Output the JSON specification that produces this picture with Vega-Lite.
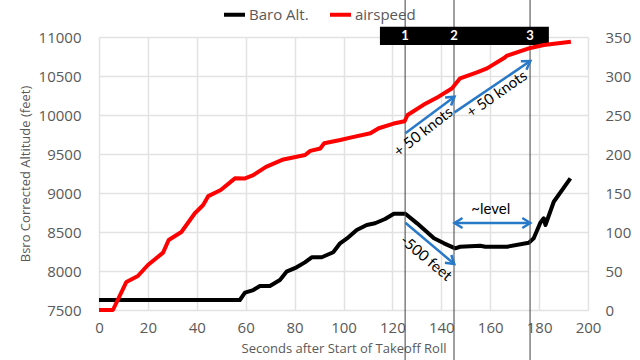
{
  "$schema": "https://vega.github.io/schema/vega-lite/v6.json",
  "width": 489,
  "height": 273,
  "autosize": {"type": "none"},
  "padding": {"left": 99, "top": 37, "right": 52, "bottom": 50},
  "background": "white",
  "config": {
    "view": {"stroke": null},
    "axis": {
      "labelFont": "Open Sans", "labelFontSize": 15, "labelColor": "#595959",
      "titleFont": "Open Sans", "titleFontSize": 13, "titleColor": "#595959", "titleFontWeight": "normal",
      "domain": false, "ticks": false, "gridColor": "#e2e2e2", "gridWidth": 1.5,
      "labelOverlap": false, "labelFlush": false, "labelBound": false
    }
  },
  "resolve": {"scale": {"y": "independent"}},
  "layer": [
    {
      "layer": [
        {
          "data": {"values": [
            {"t": 0, "v": 7628}, {"t": 57.6, "v": 7628}, {"t": 59.7, "v": 7722}, {"t": 63.1, "v": 7756},
            {"t": 65.8, "v": 7808}, {"t": 69.9, "v": 7808}, {"t": 74, "v": 7885}, {"t": 76.7, "v": 7991},
            {"t": 80.8, "v": 8047}, {"t": 84.2, "v": 8111}, {"t": 87, "v": 8176}, {"t": 91.1, "v": 8176},
            {"t": 95.8, "v": 8240}, {"t": 98.6, "v": 8355}, {"t": 102, "v": 8432}, {"t": 105.4, "v": 8526},
            {"t": 109.5, "v": 8590}, {"t": 112.9, "v": 8612}, {"t": 117, "v": 8667}, {"t": 120.6, "v": 8735},
            {"t": 125.3, "v": 8735}, {"t": 130.1, "v": 8611}, {"t": 137, "v": 8419}, {"t": 141.1, "v": 8355},
            {"t": 145.7, "v": 8291}, {"t": 147.7, "v": 8311}, {"t": 155.9, "v": 8324}, {"t": 158, "v": 8311},
            {"t": 166.9, "v": 8311}, {"t": 175.8, "v": 8363}, {"t": 177.8, "v": 8419}, {"t": 180.5, "v": 8619},
            {"t": 181.9, "v": 8676}, {"t": 182.6, "v": 8590}, {"t": 186, "v": 8888}, {"t": 192.8, "v": 9188}
          ]},
          "mark": {"type": "line", "strokeWidth": 4, "strokeJoin": "round"},
          "encoding": {
            "x": {"field": "t", "type": "quantitative", "title": "Seconds after Start of Takeoff Roll",
              "scale": {"domain": [0, 200], "nice": false},
              "axis": {"values": [0, 20, 40, 60, 80, 100, 120, 140, 160, 180, 200], "tickCount": 20, "format": "d", "labelPadding": 10, "titlePadding": 7, "grid": true}},
            "y": {"field": "v", "type": "quantitative", "title": "Bsro Corrected Altitude (feet)",
              "scale": {"domain": [7500, 11000], "nice": false, "zero": false},
              "axis": {"orient": "left", "values": [7500, 8000, 8500, 9000, 9500, 10000, 10500, 11000], "tickCount": 20, "format": "d", "labelPadding": 18, "titlePadding": 6, "grid": true}},
            "color": {"datum": "Baro Alt.",
              "scale": {"domain": ["Baro Alt.", "airspeed"], "range": ["#000000", "#ff0000"]},
              "legend": {"title": null, "orient": "none", "legendX": 123, "legendY": -35, "direction": "horizontal", "columns": 2,
                "columnPadding": 13, "labelFont": "Open Sans", "labelFontSize": 15, "labelColor": "#595959", "labelOffset": 2,
                "symbolType": "stroke", "symbolSize": 440, "symbolStrokeWidth": 4}}
          }
        },
        {
          "data": {"values": [
            {"t": 125.2, "a": 11480, "b": 6850}, {"t": 145.2, "a": 11480, "b": 6850}, {"t": 176.3, "a": 11480, "b": 6850}
          ]},
          "mark": {"type": "rule", "color": "#404040", "strokeWidth": 1},
          "encoding": {
            "x": {"field": "t", "type": "quantitative", "title": "Seconds after Start of Takeoff Roll"},
            "y": {"field": "a", "type": "quantitative", "title": "Bsro Corrected Altitude (feet)"},
            "y2": {"field": "b"}
          }
        },
        {
          "data": {"values": [{"t1": 114.9, "t2": 184, "v1": 10897, "v2": 11132}]},
          "mark": {"type": "rect", "color": "#000000"},
          "encoding": {
            "x": {"field": "t1", "type": "quantitative", "title": "Seconds after Start of Takeoff Roll"},
            "x2": {"field": "t2"},
            "y": {"field": "v1", "type": "quantitative", "title": "Bsro Corrected Altitude (feet)"},
            "y2": {"field": "v2"}
          }
        },
        {
          "data": {"values": [
            {"t": 125.2, "v": 11013, "label": "1"}, {"t": 145.2, "v": 11013, "label": "2"}, {"t": 176.3, "v": 11013, "label": "3"}
          ]},
          "mark": {"type": "text", "color": "#ffffff", "font": "Lato", "fontWeight": "bold", "fontSize": 13, "baseline": "middle", "align": "center"},
          "encoding": {
            "x": {"field": "t", "type": "quantitative", "title": "Seconds after Start of Takeoff Roll"},
            "y": {"field": "v", "type": "quantitative", "title": "Bsro Corrected Altitude (feet)"},
            "text": {"field": "label"}
          }
        },
        {
          "data": {"values": [
            {"t": 125.3, "v": 8619, "t2": 145.3, "v2": 8090},
            {"t": 145.4, "v": 8615, "t2": 176.4, "v2": 8615}
          ]},
          "mark": {"type": "rule", "color": "#2979c9", "strokeWidth": 2.5},
          "encoding": {
            "x": {"field": "t", "type": "quantitative", "title": "Seconds after Start of Takeoff Roll"},
            "y": {"field": "v", "type": "quantitative", "title": "Bsro Corrected Altitude (feet)"},
            "x2": {"field": "t2"},
            "y2": {"field": "v2"}
          }
        },
        {
          "data": {"values": [{"t": 145.3, "v": 8090}]},
          "mark": {"type": "point", "shape": "M -1.6 -1 L 0 0 L -1.6 1", "size": 100, "filled": false, "opacity": 1, "color": "#2979c9", "strokeWidth": 2.5, "angle": 40},
          "encoding": {
            "x": {"field": "t", "type": "quantitative", "title": "Seconds after Start of Takeoff Roll"},
            "y": {"field": "v", "type": "quantitative", "title": "Bsro Corrected Altitude (feet)"}
          }
        },
        {
          "data": {"values": [{"t": 176.4, "v": 8615}]},
          "mark": {"type": "point", "shape": "M -1.6 -1 L 0 0 L -1.6 1", "size": 100, "filled": false, "opacity": 1, "color": "#2979c9", "strokeWidth": 2.5, "angle": 0},
          "encoding": {
            "x": {"field": "t", "type": "quantitative", "title": "Seconds after Start of Takeoff Roll"},
            "y": {"field": "v", "type": "quantitative", "title": "Bsro Corrected Altitude (feet)"}
          }
        },
        {
          "data": {"values": [{"t": 145.4, "v": 8615}]},
          "mark": {"type": "point", "shape": "M -1.6 -1 L 0 0 L -1.6 1", "size": 100, "filled": false, "opacity": 1, "color": "#2979c9", "strokeWidth": 2.5, "angle": 180},
          "encoding": {
            "x": {"field": "t", "type": "quantitative", "title": "Seconds after Start of Takeoff Roll"},
            "y": {"field": "v", "type": "quantitative", "title": "Bsro Corrected Altitude (feet)"}
          }
        },
        {
          "data": {"values": [{"t": 160.2, "v": 8791, "label": "~level"}]},
          "mark": {"type": "text", "font": "Lato", "fontSize": 15, "color": "#000000", "align": "center", "baseline": "middle"},
          "encoding": {
            "x": {"field": "t", "type": "quantitative", "title": "Seconds after Start of Takeoff Roll"},
            "y": {"field": "v", "type": "quantitative", "title": "Bsro Corrected Altitude (feet)"},
            "text": {"field": "label"}
          }
        },
        {
          "data": {"values": [{"t": 133.8, "v": 8167, "label": "-500 feet"}]},
          "mark": {"type": "text", "font": "Lato", "fontSize": 15, "color": "#000000", "align": "center", "baseline": "middle", "angle": 40},
          "encoding": {
            "x": {"field": "t", "type": "quantitative", "title": "Seconds after Start of Takeoff Roll"},
            "y": {"field": "v", "type": "quantitative", "title": "Bsro Corrected Altitude (feet)"},
            "text": {"field": "label"}
          }
        }
      ]
    },
    {
      "layer": [
        {
          "data": {"values": [
            {"t": 0, "k": 0}, {"t": 5.7, "k": 0}, {"t": 11.2, "k": 36}, {"t": 15.9, "k": 43.6}, {"t": 20, "k": 57.7},
            {"t": 26.2, "k": 73.5}, {"t": 28.5, "k": 89.7}, {"t": 33.7, "k": 100}, {"t": 39.2, "k": 124},
            {"t": 42.6, "k": 134.6}, {"t": 44.7, "k": 146}, {"t": 49.8, "k": 153.8}, {"t": 55.6, "k": 168.8},
            {"t": 59.5, "k": 168.5}, {"t": 63.1, "k": 173}, {"t": 68.3, "k": 183.5}, {"t": 75.4, "k": 193},
            {"t": 84.3, "k": 198.7}, {"t": 86.4, "k": 204}, {"t": 90.5, "k": 207}, {"t": 92.1, "k": 213.7},
            {"t": 98.7, "k": 218}, {"t": 102.8, "k": 221}, {"t": 111, "k": 226.5}, {"t": 114.4, "k": 233},
            {"t": 120.5, "k": 239}, {"t": 125, "k": 242}, {"t": 126.2, "k": 250}, {"t": 132.7, "k": 263},
            {"t": 138.9, "k": 273.5}, {"t": 144.3, "k": 284}, {"t": 147.7, "k": 297}, {"t": 154.6, "k": 304.7},
            {"t": 158.7, "k": 309.8}, {"t": 165.5, "k": 322.7}, {"t": 166.9, "k": 326}, {"t": 176.4, "k": 336},
            {"t": 181.9, "k": 339.7}, {"t": 193, "k": 344}
          ]},
          "mark": {"type": "line", "strokeWidth": 4, "strokeJoin": "round"},
          "encoding": {
            "x": {"field": "t", "type": "quantitative", "title": "Seconds after Start of Takeoff Roll"},
            "y": {"field": "k", "type": "quantitative", "title": null,
              "scale": {"domain": [0, 350], "nice": false},
              "axis": {"orient": "right", "values": [0, 50, 100, 150, 200, 250, 300, 350], "tickCount": 20, "format": "d", "labelPadding": 17, "grid": false}},
            "color": {"datum": "airspeed"}
          }
        },
        {
          "data": {"values": [
            {"t": 125.3, "k": 226.5, "t2": 145.4, "k2": 273.5},
            {"t": 145.4, "k": 253.4, "t2": 176.4, "k2": 319.2}
          ]},
          "mark": {"type": "rule", "color": "#2979c9", "strokeWidth": 2.5},
          "encoding": {
            "x": {"field": "t", "type": "quantitative", "title": "Seconds after Start of Takeoff Roll"},
            "y": {"field": "k", "type": "quantitative", "title": null},
            "x2": {"field": "t2"},
            "y2": {"field": "k2"}
          }
        },
        {
          "data": {"values": [{"t": 145.4, "k": 273.5}]},
          "mark": {"type": "point", "shape": "M -1.6 -1 L 0 0 L -1.6 1", "size": 100, "filled": false, "opacity": 1, "color": "#2979c9", "strokeWidth": 2.5, "angle": -36.6},
          "encoding": {
            "x": {"field": "t", "type": "quantitative", "title": "Seconds after Start of Takeoff Roll"},
            "y": {"field": "k", "type": "quantitative", "title": null}
          }
        },
        {
          "data": {"values": [{"t": 176.4, "k": 319.2}]},
          "mark": {"type": "point", "shape": "M -1.6 -1 L 0 0 L -1.6 1", "size": 100, "filled": false, "opacity": 1, "color": "#2979c9", "strokeWidth": 2.5, "angle": -34},
          "encoding": {
            "x": {"field": "t", "type": "quantitative", "title": "Seconds after Start of Takeoff Roll"},
            "y": {"field": "k", "type": "quantitative", "title": null}
          }
        },
        {
          "data": {"values": [{"t": 132.6, "k": 228.6, "label": "+ 50 knots"}]},
          "mark": {"type": "text", "font": "Lato", "fontSize": 15, "color": "#000000", "align": "center", "baseline": "middle", "angle": -38},
          "encoding": {
            "x": {"field": "t", "type": "quantitative", "title": "Seconds after Start of Takeoff Roll"},
            "y": {"field": "k", "type": "quantitative", "title": null},
            "text": {"field": "label"}
          }
        },
        {
          "data": {"values": [{"t": 162.7, "k": 277, "label": "+ 50 knots"}]},
          "mark": {"type": "text", "font": "Lato", "fontSize": 15, "color": "#000000", "align": "center", "baseline": "middle", "angle": -35},
          "encoding": {
            "x": {"field": "t", "type": "quantitative", "title": "Seconds after Start of Takeoff Roll"},
            "y": {"field": "k", "type": "quantitative", "title": null},
            "text": {"field": "label"}
          }
        }
      ]
    }
  ]
}
